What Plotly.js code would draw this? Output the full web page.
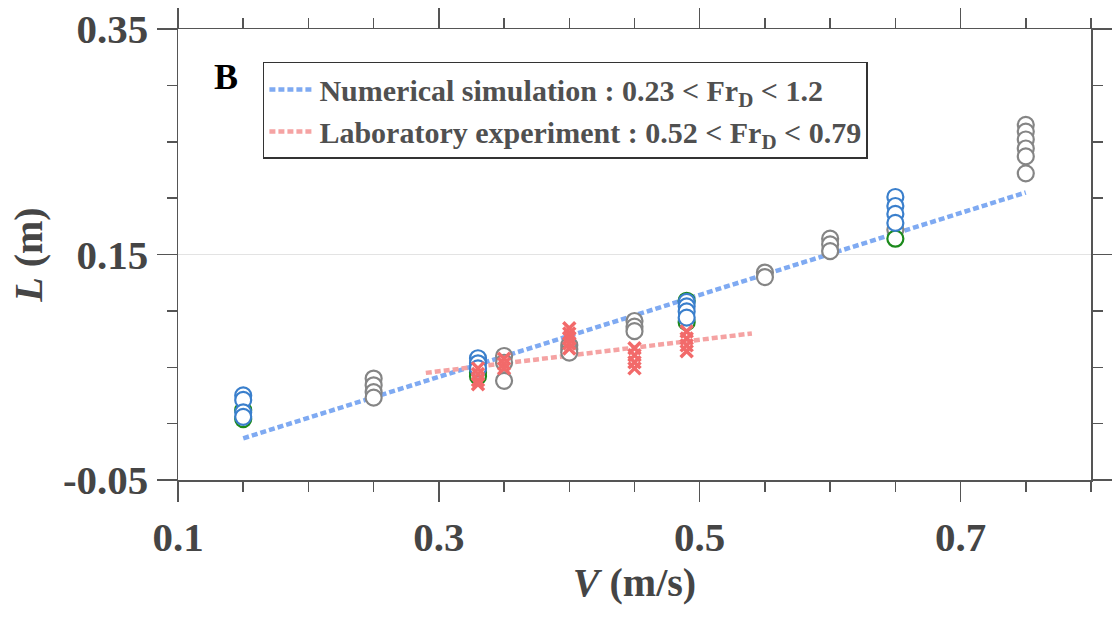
<!DOCTYPE html>
<html>
<head>
<meta charset="utf-8">
<script src="https://cdn.plot.ly/plotly-3.0.1.min.js"></script>
<style>html,body{margin:0;padding:0;background:#fff;}#chart{width:1112px;height:619px;}</style>
</head>
<body>
<div id="chart"></div>
<script>
// Fit lines
const numV = [0.15, 0.75];
const numL = [-0.013, 0.205];
const labV = [0.29, 0.54];
const labL = [0.045, 0.080];

// Blue circles
const blueV = [0.15,0.15,0.15,0.15, 0.33,0.33,0.33, 0.49,0.49,0.49,0.49, 0.65,0.65,0.65,0.65];
const blueL = [0.025,0.021,0.010,0.006, 0.058,0.0535,0.049, 0.108,0.104,0.0995,0.094, 0.201,0.193,0.186,0.178];

// Green circles
const greenV = [0.15,0.15, 0.33,0.33, 0.49,0.49, 0.65];
const greenL = [0.004,0.012, 0.0455,0.042, 0.109,0.090, 0.164];

// Gray circles
const grayV = [0.25,0.25,0.25,0.25, 0.35,0.35,0.35, 0.40,0.40,0.40, 0.45,0.45,0.45, 0.55,0.55, 0.60,0.60,0.60, 0.65, 0.75,0.75,0.75,0.75,0.75,0.75];
const grayL = [0.040,0.034,0.028,0.023, 0.060,0.054,0.038, 0.0695,0.066,0.063, 0.091,0.086,0.082, 0.134,0.130, 0.164,0.159,0.153, 0.172, 0.265,0.259,0.252,0.244,0.237,0.222];

// Red crosses (laboratory)
const redV = [0.33,0.33,0.33,0.33, 0.35,0.35,0.35, 0.40,0.40,0.40,0.40,0.40, 0.45,0.45,0.45,0.45, 0.49,0.49,0.49,0.49];
const redL = [0.049,0.044,0.0385,0.035, 0.0575,0.053,0.049, 0.0845,0.080,0.0757,0.071,0.0667, 0.0668,0.0606,0.0544,0.049, 0.0818,0.0756,0.0694,0.0641];

const xTicks = [0.1, 0.3, 0.5, 0.7];
const xTickText = ['0.1', '0.3', '0.5', '0.7'];
const yTicks = [-0.05, 0.15, 0.35];
const yTickText = ['-0.05', '0.15', '0.35'];

const serif = 'Liberation Serif, Times New Roman, serif';
const axisCol = '#555555';
const textCol = '#454545';

function circles(v, l, col) {
  return {x: v, y: l, type: 'scatter', mode: 'markers', showlegend: false, hoverinfo: 'skip',
    marker: {symbol: 'circle', size: 16, color: '#ffffff', line: {color: col, width: 2.2}}};
}

const traces = [
  {x: numV, y: numL, type: 'scatter', mode: 'lines', name: 'Numerical simulation : 0.23 < Fr<sub>D</sub> < 1.2',
    line: {color: '#7faaf2', width: 4.5, dash: '6px,3px'}},
  {x: labV, y: labL, type: 'scatter', mode: 'lines', name: 'Laboratory experiment : 0.52 < Fr<sub>D</sub> < 0.79',
    line: {color: '#f5a3a3', width: 4.5, dash: '6px,3px'}},
  circles(grayV, grayL, '#858585'),
  circles(greenV, greenL, '#1b8a1b'),
  circles(blueV, blueL, '#3a7fcc'),
  {x: redV, y: redL, type: 'scatter', mode: 'markers', showlegend: false, hoverinfo: 'skip',
    marker: {symbol: 'x-thin', size: 12, color: '#f26a6a', line: {color: '#f26a6a', width: 3.5}}}
];

const layout = {
  width: 1112, height: 619,
  margin: {l: 178, r: 21, t: 29, b: 139},
  paper_bgcolor: '#ffffff', plot_bgcolor: '#ffffff',
  font: {family: serif, color: textCol},
  showlegend: true,
  legend: {x: 0.093, y: 0.927, xanchor: 'left', yanchor: 'top', itemwidth: 45,
    bordercolor: '#333333', borderwidth: 1.5, bgcolor: '#ffffff',
    font: {family: serif, size: 30, color: '#505050', weight: 'bold'}},
  xaxis: {
    range: [0.1, 0.8], tickmode: 'array', tickvals: xTicks, ticktext: xTickText,
    ticks: 'outside', ticklen: 20, tickwidth: 1.5, tickcolor: axisCol,
    showline: true, linecolor: axisCol, linewidth: 1.5, mirror: 'allticks',
    showgrid: false, zeroline: false,
    minor: {tick0: 0.1, dtick: 0.05, ticks: 'outside', ticklen: 10, tickwidth: 1.5, tickcolor: axisCol, showgrid: false},
    tickfont: {family: serif, size: 41, color: textCol, weight: 'bold'},
    title: {text: '<i>V</i> (m/s)', font: {family: serif, size: 40, color: textCol, weight: 'bold'}, standoff: 0}
  },
  yaxis: {
    range: [-0.05, 0.35], tickmode: 'array', tickvals: yTicks, ticktext: yTickText,
    ticks: 'outside', ticklen: 20, tickwidth: 1.5, tickcolor: axisCol,
    showline: true, linecolor: axisCol, linewidth: 1.5, mirror: 'allticks',
    showgrid: true, gridcolor: '#e3e3e3', gridwidth: 1, zeroline: false,
    minor: {tick0: -0.05, dtick: 0.05, ticks: 'outside', ticklen: 10, tickwidth: 1.5, tickcolor: axisCol, showgrid: false},
    tickfont: {family: serif, size: 41, color: textCol, weight: 'bold'},
    title: {text: '<i>L</i> (m)', font: {family: serif, size: 40, color: textCol, weight: 'bold'}, standoff: 8}
  },
  annotations: [
    {text: 'B', xref: 'paper', yref: 'paper', x: 0.037, y: 0.943, showarrow: false,
      font: {family: serif, size: 36, color: '#000000', weight: 'bold'}}
  ]
};

Plotly.newPlot('chart', traces, layout, {displayModeBar: false, staticPlot: true});
</script>
</body>
</html>
